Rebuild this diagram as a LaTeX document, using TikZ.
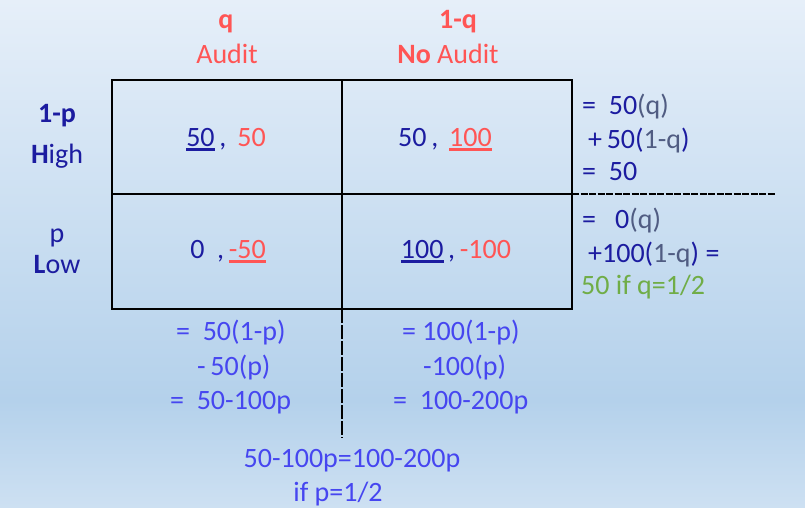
\documentclass[tikz,border=0pt]{standalone}
\usepackage{fontspec}
\setmainfont{Carlito}
\usetikzlibrary{calc}
\definecolor{bgtop}{HTML}{E6EFF9}
\definecolor{bgmid}{HTML}{B4D1EB}
\definecolor{bgbot}{HTML}{CDE0F2}
\definecolor{coral}{HTML}{FF5555}
\definecolor{navy}{HTML}{1C1CA0}
\definecolor{slate}{HTML}{505C82}
\definecolor{lblue}{HTML}{4646F0}
\definecolor{ogreen}{HTML}{70AD47}
\newcommand{\myul}[2]{{\setbox0\hbox{\color{#1}#2}\rlap{\color{#1}\rule[-4.6pt]{\wd0}{2.4pt}}\box0}}
\tikzset{
  txt/.style={inner sep=0pt, font=\fontsize{28}{33}\selectfont},
  grid/.style={line width=1.2pt, black},
  dsh/.style={line width=1.1pt, black, dash pattern=on 7pt off 1.5pt},
  dshv/.style={line width=1.1pt, black, dash pattern=on 14pt off 2pt},
}
\begin{document}
\begin{tikzpicture}[x=1pt,y=-1pt]
\useasboundingbox (0,0) rectangle (805,507);
\shade[top color=bgtop, bottom color=bgmid] (0,0) rectangle (805,400);
\shade[top color=bgmid, bottom color=bgbot] (0,400) rectangle (805,507);
% grid
\coordinate (tl) at (112,80);
\coordinate (tr) at (572,80);
\coordinate (bl) at (112,309);
\coordinate (br) at (572,309);
\coordinate (tm) at (342,80);
\coordinate (bm) at (342,309);
\coordinate (ml) at (112,194);
\coordinate (mr) at (572,194);
\coordinate (vend) at (342,438);
\coordinate (hend) at (776,194);
\draw[grid] (tl) rectangle (br);
\draw[grid] (tm) -- (bm);
\draw[grid] (ml) -- (mr);
\draw[dshv] (bm) -- (vend);
\draw[dsh] (mr) -- (hend);
% column headers
\node[txt, anchor=base, text=coral] (cq) at (226,28) {\textbf{q}};
\node[txt, anchor=base, text=coral] (ca) at (227,63) {Audit};
\node[txt, anchor=base, text=coral] (cq2) at (458,28) {\textbf{1-q}};
\node[txt, anchor=base, text=coral] (cna) at (448,63) {\textbf{No} Audit};
% row headers
\node[txt, anchor=base, text=navy] (r1) at (57,122) {\textbf{1-p}};
\node[txt, anchor=base, text=navy] (r1b) at (57,163) {\textbf{H}igh};
\node[txt, anchor=base, text=navy] (r2) at (57,242) {p};
\node[txt, anchor=base, text=navy] (r2b) at (57,273) {\textbf{L}ow};
% cells
\node[txt, anchor=base] (c11) at (226,146) {\myul{navy}{50}\,{\color{navy},}\, \textcolor{coral}{50}};
\node[txt, anchor=base] (c12) at (445,146) {\textcolor{navy}{50}\,{\color{navy},}\, \myul{coral}{100}};
\node[txt, anchor=base] (c21) at (228,258) {\textcolor{navy}{0}\ \ {\color{navy},}\,\myul{coral}{-50}};
\node[txt, anchor=base] (c22) at (456,258) {\myul{navy}{100}\,{\color{navy},}\,\textcolor{coral}{-100}};
% right column
\node[txt, anchor=base west, text=navy] (e1) at (582,114) {=\ \ 50\textcolor{slate}{(q)}};
\node[txt, anchor=base west, text=navy] (e2) at (588,148) {+\,50(\textcolor{slate}{1-q})};
\node[txt, anchor=base west, text=navy] (e3) at (582,180) {=\ \ 50};
\node[txt, anchor=base west, text=navy] (e4) at (582,228) {=\ \ \ 0\textcolor{slate}{(q)}};
\node[txt, anchor=base west, text=navy] (e5) at (588,262) {+100(\textcolor{slate}{1-q}) =};
\node[txt, anchor=base west, text=ogreen] (e6) at (581,294) {50 if q=1/2};
% bottom rows
\node[txt, anchor=base west, text=lblue] (b1) at (176,340) {=\ \ 50(1-p)};
\node[txt, anchor=base west, text=lblue] (b2) at (197,375) {-\,50(p)};
\node[txt, anchor=base west, text=lblue] (b3) at (170,409) {=\ \ 50-100p};
\node[txt, anchor=base west, text=lblue] (b4) at (402,340) {= 100(1-p)};
\node[txt, anchor=base west, text=lblue] (b5) at (423,375) {-100(p)};
\node[txt, anchor=base west, text=lblue] (b6) at (393,409) {=\ \ 100-200p};
\node[txt, anchor=base, text=lblue] (s1) at (352,467) {50-100p=100-200p};
\node[txt, anchor=base, text=lblue] (s2) at (338,501) {if p=1/2};
\end{tikzpicture}
\end{document}
